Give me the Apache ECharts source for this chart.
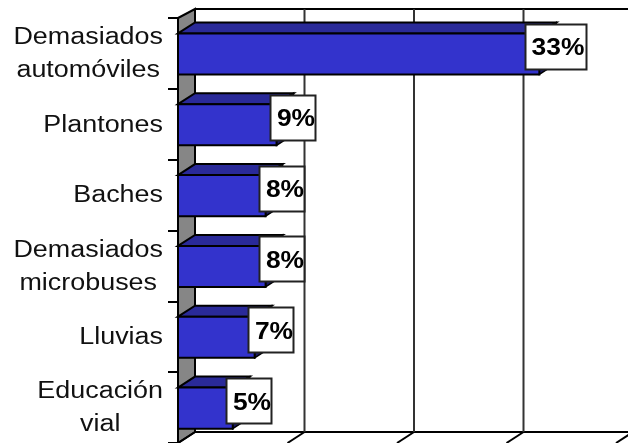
<!DOCTYPE html>
<html><head><meta charset="utf-8">
<style>html,body{margin:0;padding:0;background:#fff}#c{width:628px;height:443px}</style>
<script src="https://cdn.jsdelivr.net/npm/echarts@6/dist/echarts.min.js"></script>
</head><body><div id="c"></div>
<script>
var categories = ['Demasiados\nautomóviles','Plantones','Baches','Demasiados\nmicrobuses','Lluvias','Educación\nvial'];
var values = [33,9,8,8,7,5];
var valueTicks = [0,10,20,30,40];

var DX = 17, DY_BAR = 11, DY_TOP = 9, DY_BOTTOM = 11;
var CAT_FONT = '23px "Liberation Sans", Arial, sans-serif', CAT_SCALE = 1.17, CAT_GAP = 15;
var chart = echarts.init(document.getElementById('c'), null, {renderer:'canvas'});
var ctx = document.createElement('canvas').getContext('2d');

function wallItem(params, api){
  var cs = params.coordSys, x=cs.x, t=cs.y, b=cs.y+cs.height;
  return {type:'group', children:[
    {type:'polygon', shape:{points:[[x,t],[x+DX,t-DY_TOP],[x+DX,b-DY_BOTTOM],[x,b]]},
     style:{fill:'#868686',stroke:'#000',lineWidth:2}},
    {type:'line', shape:{x1:x+DX,y1:t-DY_TOP,x2:x+cs.width+DX,y2:t-DY_TOP}, style:{stroke:'#000',lineWidth:2}},
    {type:'line', shape:{x1:x+DX,y1:b-DY_BOTTOM,x2:x+cs.width+DX,y2:b-DY_BOTTOM}, style:{stroke:'#000',lineWidth:2}}
  ]};
}
function gridItem(params, api){
  var cs = params.coordSys, t=cs.y, b=cs.y+cs.height;
  var x = api.coord([api.value(0),0])[0];
  var kids = [{type:'line', shape:{x1:x,y1:b,x2:x+DX,y2:b-DY_BOTTOM}, style:{stroke:'#000',lineWidth:2}}];
  if(api.value(0)>0) kids.push({type:'line', shape:{x1:x+DX,y1:t-DY_TOP,x2:x+DX,y2:b-DY_BOTTOM}, style:{stroke:'#333',lineWidth:2}});
  return {type:'group', children:kids};
}
function barItem(params, api){
  var p0 = api.coord([0, api.value(1)]), p1 = api.coord([api.value(0), api.value(1)]);
  var h = api.size([0,1])[1]*0.58, t = p0[1]-h/2+0.5, b = t+h, l=p0[0], r=p1[0];
  return {type:'group', children:[
    {type:'polygon', shape:{points:[[l,t],[l+DX,t-DY_BAR],[r+DX,t-DY_BAR],[r,t]]}, style:{fill:'#2a2a99',stroke:'#000',lineWidth:2}},
    {type:'polygon', shape:{points:[[r,t],[r+DX,t-DY_BAR],[r+DX,b-DY_BAR],[r,b]]}, style:{fill:'#1a1a66',stroke:'#000',lineWidth:1.5}},
    {type:'rect', shape:{x:l,y:t,width:r-l,height:h}, style:{fill:'#3333cc',stroke:'#000',lineWidth:2}}
  ]};
}
function labelItem(params, api){
  var p = api.coord([api.value(0), api.value(1)]);
  var cx = p[0]+DX-1, cy = p[1]-7;
  var txt = api.value(0)+'%';
  var w = txt.length===3 ? 61 : 45, ht = 45;
  return {type:'group', children:[
    {type:'rect', shape:{x:Math.round(cx-w/2)+.5,y:Math.round(cy-ht/2)+.5,width:w,height:ht}, style:{fill:'#fff',stroke:'#222',lineWidth:2}},
    {type:'text', x:Math.round(cx)+3, y:Math.round(cy)+2, scaleX:1.1, style:{text:txt,align:'center',verticalAlign:'middle',
      font:'bold 24px "Liberation Sans", Arial, sans-serif',fill:'#000'}}
  ]};
}
function catLabelItem(params, api){
  var idx = api.value(0);
  var p = api.coord([0, idx]);
  var text = categories[idx];
  ctx.font = CAT_FONT;
  var w = Math.max.apply(null, text.split('\n').map(function(s){return ctx.measureText(s).width;}))*CAT_SCALE;
  return {type:'text', x:p[0]-CAT_GAP-w/2, y:p[1]+1, scaleX:CAT_SCALE,
    style:{text:text,align:'center',verticalAlign:'middle',font:CAT_FONT,lineHeight:33,fill:'#111'}};
}
var barData = values.map(function(v,i){return [v,i];});
chart.setOption({
  animation:false,
  backgroundColor:'#fff',
  grid:{left:178,top:18,width:438,height:427},
  xAxis:{type:'value',min:0,max:40,interval:10,axisLine:{show:false},axisTick:{show:false},axisLabel:{show:false},splitLine:{show:false}},
  yAxis:{type:'category',inverse:true,data:categories,
    axisLine:{show:true,lineStyle:{color:'#000',width:2}},
    axisTick:{show:true,length:10,lineStyle:{color:'#000',width:2}},
    axisLabel:{show:false},
    z:3},
  series:[
    {type:'custom',renderItem:wallItem,data:[[0,0]],encode:{x:0,y:1},z:1,silent:true},
    {type:'custom',renderItem:gridItem,data:valueTicks.map(function(v){return [v,0];}),encode:{x:0,y:1},z:2,silent:true},
    {type:'custom',renderItem:barItem,data:barData,encode:{x:0,y:1},z:4},
    {type:'custom',renderItem:labelItem,data:barData,encode:{x:0,y:1},z:5},
    {type:'custom',coordinateSystem:'cartesian2d',renderItem:catLabelItem,data:categories.map(function(c,i){return [i];}),encode:{y:0},z:5,silent:true}
  ]
});
</script></body></html>
